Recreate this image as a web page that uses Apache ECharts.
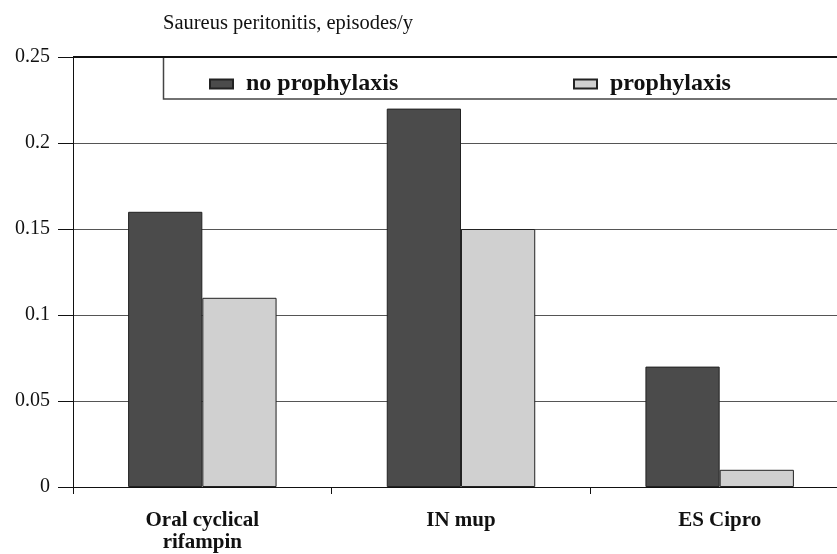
<!DOCTYPE html>
<html><head><meta charset="utf-8">
<script src="https://cdn.jsdelivr.net/npm/echarts@6/dist/echarts.min.js"></script>
<style>html,body{margin:0;padding:0;background:#fff;overflow:hidden}#c{width:849px;height:554px}</style>
</head><body><div id="c"></div>
<script>
var categories = ['Oral cyclical\nrifampin', 'IN mup', 'ES Cipro'];
var noProphylaxis = [0.16, 0.22, 0.07];
var prophylaxis = [0.11, 0.15, 0.01];
var yTicks = [0, 0.05, 0.1, 0.15, 0.2, 0.25];
var serif = '"Liberation Serif","DejaVu Serif",serif';
var chart = echarts.init(document.getElementById('c'));
chart.setOption({
  animation: false,
  backgroundColor: '#fff',
  title: {text: 'Saureus peritonitis, episodes/y', left: 158, top: 8,
    textStyle: {fontFamily: serif, fontSize: 20.5, fontWeight: 'normal', color: '#111'}},
  grid: {left: 73, right: 0, top: 57, bottom: 66, containLabel: false},
  legend: [
    {data: ['no prophylaxis'], icon: 'rect', left: 204, top: 67, itemWidth: 23, itemHeight: 9, itemGap: 0,
      textStyle: {fontFamily: serif, fontSize: 24, fontWeight: 'bold', color: '#111', padding: [0,0,0,8]}},
    {data: ['prophylaxis'], icon: 'rect', left: 568, top: 67, itemWidth: 23, itemHeight: 9, itemGap: 0,
      textStyle: {fontFamily: serif, fontSize: 24, fontWeight: 'bold', color: '#111', padding: [0,0,0,8]}}
  ],
  xAxis: {type: 'category', data: categories,
    axisLine: {lineStyle: {color: '#111', width: 1}},
    axisTick: {show: true, length: 7, lineStyle: {color: '#111'}},
    axisLabel: {fontFamily: serif, fontSize: 21, fontWeight: 'bold', color: '#111', margin: 23, lineHeight: 22}},
  yAxis: {type: 'value', min: 0, max: 0.25, interval: 0.05,
    axisLine: {show: true, lineStyle: {color: '#111', width: 1}},
    axisTick: {show: true, length: 15, lineStyle: {color: '#111'}},
    axisLabel: {fontFamily: serif, fontSize: 20, color: '#111', margin: 23,
      formatter: function(v){ var t = yTicks.filter(function(x){return Math.abs(x-v)<1e-9;}); return t.length ? String(+v.toFixed(2)) : ''; }},
    splitLine: {show: true, lineStyle: {color: '#555', width: 1}}},
  series: [
    {name: 'no prophylaxis', type: 'bar', data: noProphylaxis, barGap: '0%', barCategoryGap: '42.6%',
      itemStyle: {color: '#4b4b4b', borderColor: '#222', borderWidth: 1}},
    {name: 'prophylaxis', type: 'bar', data: prophylaxis, barGap: '0%', barCategoryGap: '42.6%',
      itemStyle: {color: '#d0d0d0', borderColor: '#222', borderWidth: 1}}
  ],
  graphic: [
    {type: 'rect', shape: {x: 163.5, y: 57, width: 700, height: 42}, z: 10,
      style: {fill: 'rgba(0,0,0,0)', stroke: '#444', lineWidth: 1.5}},
    {type: 'line', shape: {x1: 73, y1: 57, x2: 849, y2: 57}, z: 11,
      style: {stroke: '#111', lineWidth: 2}}
  ]
});
</script></body></html>
